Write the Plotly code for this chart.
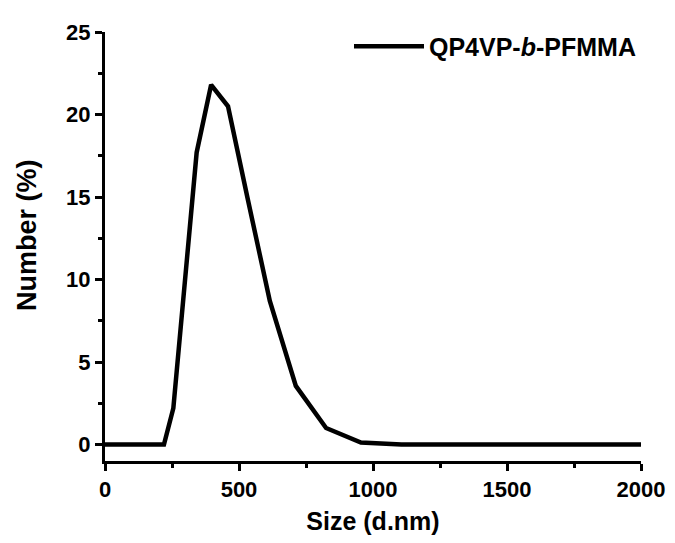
import plotly.graph_objects as go

size_nm = [0, 220, 255, 295, 342, 396, 459, 531, 615, 712, 825, 955, 1106, 1281, 1484, 1718, 2000]
number_pct = [0, 0, 2.2, 9.5, 17.7, 21.8, 20.5, 15.0, 8.7, 3.55, 1.0, 0.12, 0, 0, 0, 0, 0]
series_name = "QP4VP-<i>b</i>-PFMMA"
x_ticks = [0, 500, 1000, 1500, 2000]
y_ticks = [0, 5, 10, 15, 20, 25]
x_title = "Size (d.nm)"
y_title = "Number (%)"

FONT = "Liberation Sans, Arial, sans-serif"

fig = go.Figure()
fig.add_trace(go.Scatter(
    x=size_nm, y=number_pct, mode="lines", name=series_name,
    line=dict(color="black", width=4.5),
))

fig.update_layout(
    width=675, height=543,
    margin=dict(l=97, r=42, t=17, b=90),
    plot_bgcolor="white", paper_bgcolor="white",
    font=dict(family=FONT, color="black"),
    showlegend=True,
    legend=dict(
        x=1.0, y=1.02, xanchor="right", yanchor="top",
        font=dict(family=FONT, size=25, color="black", weight="bold"),
        bgcolor="rgba(0,0,0,0)", itemwidth=70,
    ),
    annotations=[dict(
        text=y_title, textangle=-90, xref="paper", yref="paper",
        x=-0.1455, y=0.527, xanchor="center", yanchor="middle", showarrow=False,
        font=dict(family=FONT, size=27, color="black", weight="bold"),
    )],
)

fig.update_xaxes(
    range=[0, 2000], tickvals=x_ticks,
    showline=True, linecolor="black", linewidth=3, mirror=False,
    ticks="outside", ticklen=7, tickwidth=3, tickcolor="black",
    minor=dict(ticks="outside", ticklen=4, tickwidth=3, tickcolor="black", dtick=250),
    showgrid=False, zeroline=False,
    tickfont=dict(family=FONT, size=22, color="black", weight="bold"),
    title=dict(text=x_title, font=dict(family=FONT, size=25, color="black", weight="bold"), standoff=12),
)
fig.update_yaxes(
    range=[-1, 25], tickvals=y_ticks,
    showline=True, linecolor="black", linewidth=3, mirror=False,
    ticks="outside", ticklen=7, tickwidth=3, tickcolor="black",
    minor=dict(ticks="outside", ticklen=4, tickwidth=3, tickcolor="black", dtick=2.5),
    showgrid=False, zeroline=False,
    tickfont=dict(family=FONT, size=22, color="black", weight="bold"),
)

fig.write_html("out.html")
